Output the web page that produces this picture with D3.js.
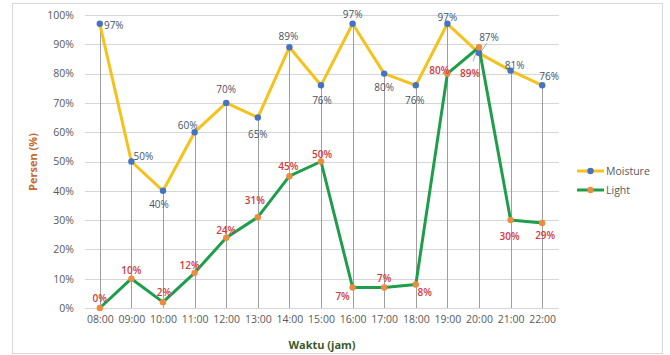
<!DOCTYPE html>
<html><head><meta charset="utf-8">
<script src="https://cdn.jsdelivr.net/npm/d3@7"></script>
<style>body{margin:0;background:#fff}svg{display:block}text{font-family:"Open Sans","Liberation Sans",sans-serif}</style>
</head><body><svg id="c" width="670" height="355"></svg>
<script>
const categories = ["08:00","09:00","10:00","11:00","12:00","13:00","14:00","15:00","16:00","17:00","18:00","19:00","20:00","21:00","22:00"];
const moisture = [97,50,40,60,70,65,89,76,97,80,76,97,87,81,76];
const light = [0,10,2,12,24,31,45,50,7,7,8,80,89,30,29];
const yTicks = [0,10,20,30,40,50,60,70,80,90,100];
// label offsets (dx, dy of text centre relative to point)
const moistureLabelOff = [[14,1],[12,-6],[-4,13],[-7,-7],[0,-14],[0,16],[-1,-11],[1,15],[0,-10],[0,13],[-1,15],[0,-7],[10,-16],[4,-6],[7,-9]];
const lightLabelOff = [[0,-10],[0,-9],[1,-10],[-5,-8],[0,-8],[-3,-17],[-1,-10],[1,-8],[-10,9],[0,-9],[9,7],[-8,-4],[-9,26],[-1,16],[3,12]];

const svg = d3.select("#c");
svg.append("rect").attr("x",12.5).attr("y",3.5).attr("width",650).attr("height",350).attr("fill","#fff").attr("stroke","#d9d9d9");

const x = d3.scalePoint().domain(categories).range([84,558]).padding(0.5);
const y = d3.scaleLinear().domain([0,100]).range([308,15]);

// gridlines
svg.append("g").selectAll("line").data(yTicks).join("line")
  .attr("x1",85).attr("x2",559).attr("y1",d=>Math.round(y(d))+0.5).attr("y2",d=>Math.round(y(d))+0.5)
  .attr("stroke","#d6d6d6").attr("stroke-width",1);

// y axis labels
const yAxis = d3.axisLeft(y).tickValues(yTicks).tickFormat(d=>d+"%").tickSize(0).tickPadding(0);
const gy = svg.append("g").attr("transform","translate(74,0)").call(yAxis);
gy.select(".domain").remove();
gy.selectAll("text").attr("fill","#595959").style("font-size","10.5px").style("font-family",'"Open Sans",sans-serif');

// x axis labels
const xAxis = d3.axisBottom(x).tickSize(0).tickPadding(0);
const gx = svg.append("g").attr("transform","translate(0,316)").call(xAxis);
gx.select(".domain").remove();
gx.selectAll("text").attr("fill","#595959").style("font-size","10.5px").style("font-family",'"Open Sans",sans-serif');

// drop lines
const maxv = categories.map((c,i)=>Math.max(moisture[i],light[i]));
svg.append("g").selectAll("line").data(categories).join("line")
  .attr("x1",d=>Math.round(x(d))+0.5).attr("x2",d=>Math.round(x(d))+0.5)
  .attr("y1",(d,i)=>y(maxv[i])).attr("y2",y(0))
  .attr("stroke","#9e9e9e").attr("stroke-width",1);

const line = d3.line().x((d,i)=>x(categories[i])).y(d=>y(d));
const series = [
  {name:"Moisture", values:moisture, lc:"#f5c21b", mc:"#4472c4", tc:"#44546a", fw:"normal", off:moistureLabelOff},
  {name:"Light", values:light, lc:"#1e9e4a", mc:"#ed8b3e", tc:"#d23a40", fw:"600", off:lightLabelOff}
];
// leader lines at 20:00
svg.append("line").attr("x1",x("20:00")+1).attr("y1",y(87)).attr("x2",x("20:00")+8).attr("y2",y(87)-10).attr("stroke","#a6a6a6");
svg.append("line").attr("x1",x("20:00")-1).attr("y1",y(89)).attr("x2",x("20:00")-6).attr("y2",y(89)+14).attr("stroke","#a6a6a6");

series.forEach(s=>{
  svg.append("path").attr("d",line(s.values)).attr("fill","none").attr("stroke",s.lc).attr("stroke-width",3).attr("stroke-linejoin","round");
});
series.forEach(s=>{
  svg.append("g").selectAll("circle").data(s.values).join("circle")
    .attr("cx",(d,i)=>x(categories[i])).attr("cy",d=>y(d)).attr("r",3.2).attr("fill",s.mc);
});
series.forEach(s=>{
  svg.append("g").selectAll("text").data(s.values).join("text")
    .attr("x",(d,i)=>x(categories[i])+s.off[i][0]).attr("y",(d,i)=>y(d)+s.off[i][1])
    .attr("text-anchor","middle").attr("dominant-baseline","central")
    .attr("fill",s.tc).style("font-size","10px").style("font-weight",s.fw).text(d=>d+"%");
});

// axis titles
svg.append("text").attr("x",322).attr("y",344).attr("text-anchor","middle").attr("dominant-baseline","central")
  .attr("fill","#3b5a2b").style("font-size","11px").style("font-weight","bold").text("Waktu (jam)");
svg.append("text").attr("transform","translate(32,162) rotate(-90)").attr("text-anchor","middle").attr("dominant-baseline","central")
  .attr("fill","#c8692a").style("font-size","11px").style("font-weight","bold").text("Persen (%)");

// legend
const lg = svg.append("g");
series.forEach((s,i)=>{
  const yy = 171 + i*19;
  lg.append("line").attr("x1",577).attr("x2",604).attr("y1",yy).attr("y2",yy).attr("stroke",s.lc).attr("stroke-width",3);
  lg.append("circle").attr("cx",590.5).attr("cy",yy).attr("r",3.2).attr("fill",s.mc);
  lg.append("text").attr("x",606).attr("y",yy).attr("dominant-baseline","central").attr("fill","#595959").style("font-size","10.5px").text(s.name);
});
</script></body></html>
